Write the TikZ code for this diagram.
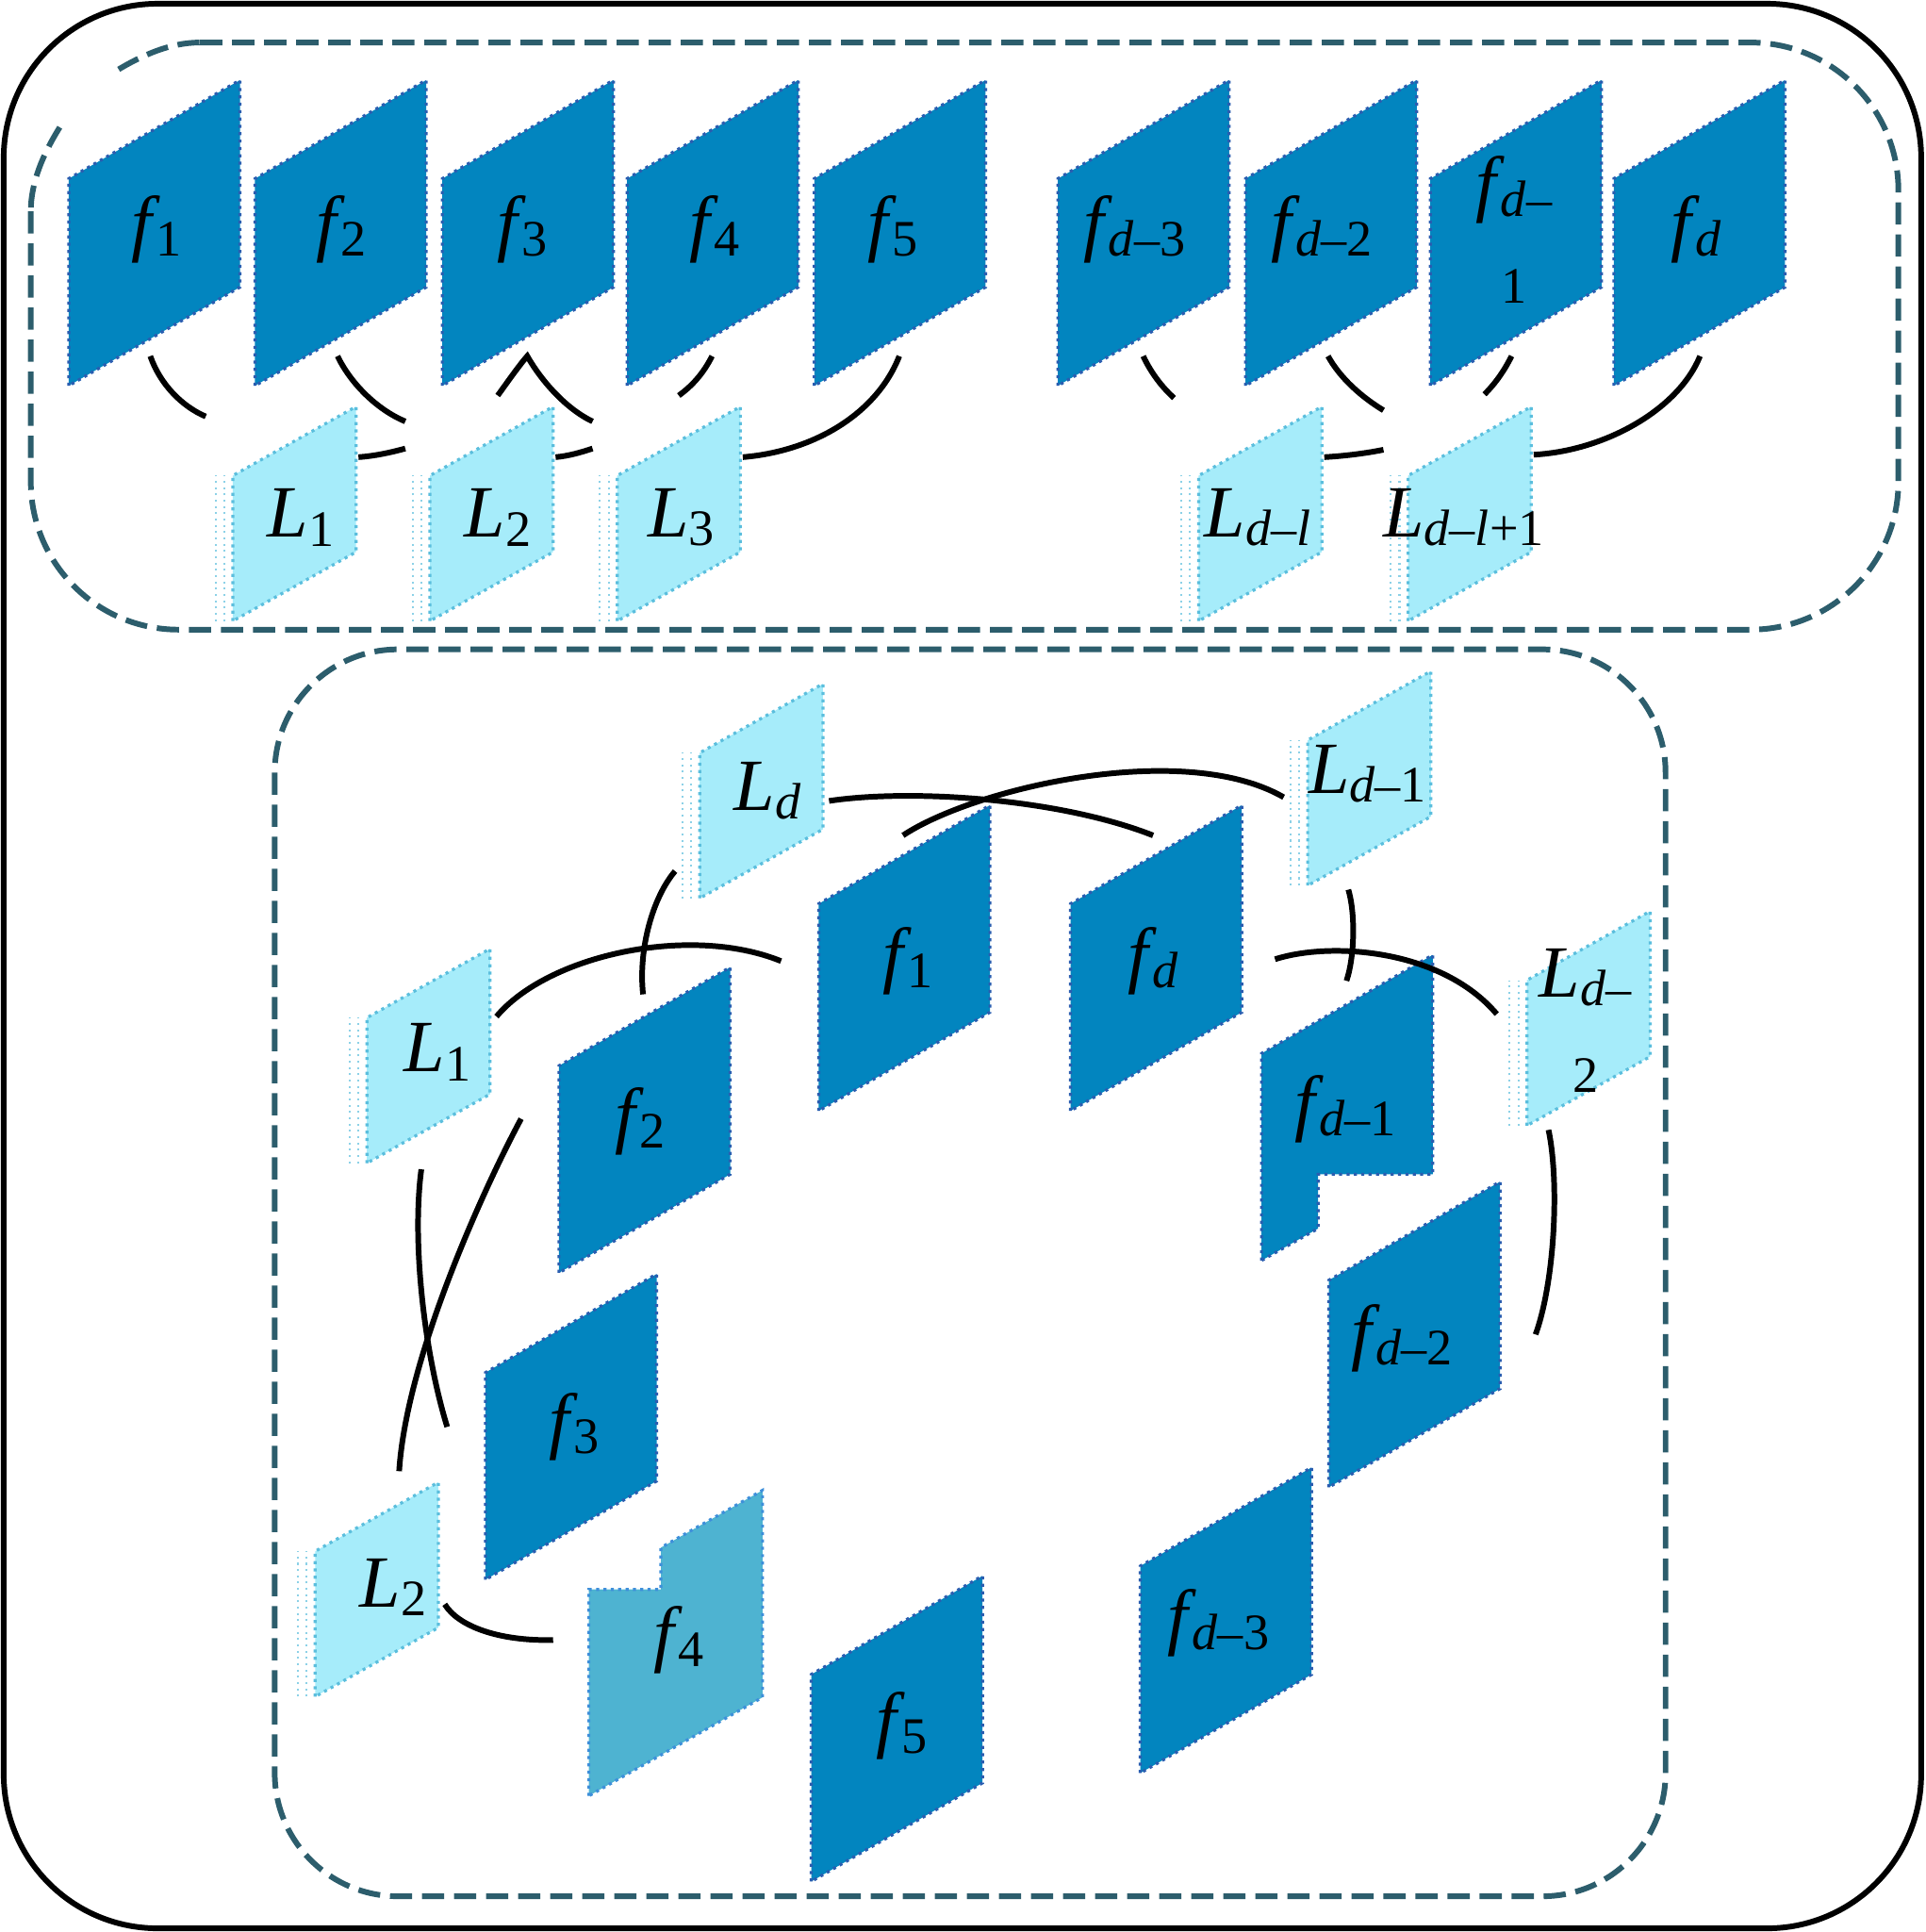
\documentclass[tikz,border=0pt]{standalone}
\usepackage{fontspec}
\setmainfont{Liberation Serif}
\definecolor{fdark}{HTML}{0285BF}
\definecolor{fedge}{HTML}{2A5DB0}
\definecolor{lfill}{HTML}{A6ECFA}
\definecolor{ledge}{HTML}{5BBEDD}
\definecolor{fmid}{HTML}{4EB3D1}
\definecolor{dteal}{HTML}{2C5D6C}
\newcommand\subsz{\fontsize{11.8}{22}\selectfont}
\newcommand\lbl[2]{\textit{#1}\ifx f#1\kern-0.06em\fi\raisebox{-0.12em}{\subsz #2}}
\newcommand\ftile[2]{\filldraw[ftilest] (#1,#2) -- ++(0,-168) -- ++(139,-80) -- ++(0,168) -- cycle;}
\newcommand\ltile[2]{%
  \draw[lghost] (#1-14,#2) -- ++(0,-118);
  \draw[lghost] (#1-7,#2) -- ++(0,-118);
  \filldraw[ltilest] (#1,#2) -- ++(0,-118) -- ++(100,-56) -- ++(0,118) -- cycle;}
\begin{document}
\begin{tikzpicture}[x=0.01cm,y=-0.01cm,
  ftilest/.style={fill=fdark, draw=fedge, densely dotted, line width=0.7pt},
  ftilemid/.style={fill=fmid, draw=fmid!80!blue, densely dotted, line width=0.7pt},
  ltilest/.style={fill=lfill, draw=ledge, densely dotted, line width=0.7pt},
  lghost/.style={draw=ledge!70, densely dotted, line width=0.45pt},
  conn/.style={line width=1.3pt, black},
  dbox/.style={draw=dteal, dash pattern=on 1.8mm off 0.8mm, line width=1.3pt},
  lab/.style={inner sep=0pt, font=\fontsize{17}{22}\selectfont, align=center}]
\useasboundingbox (0,0) rectangle (1563,1568);
% outer frame
\draw[line width=1.3pt, rounded corners=12.5mm] (3,3) rectangle (1559.5,1565);
% top dashed box
\draw[dbox, rounded corners=12mm] (25,171.5) -- (25,511) -- (1541,511) -- (1541,34.5) -- (162,34.5);
\draw[dbox] (162,34.5) .. controls (138,34.5) and (115,45) .. (94.4,57.4);
\draw[dbox] (48.5,103.3) .. controls (35,125) and (25,148) .. (25,171.5);
% bottom dashed box
\draw[dbox, rounded corners=10mm] (223,527) rectangle (1352,1539);

% ---------- top row ----------
\ftile{55.8}{313}\ftile{207}{313}\ftile{359}{313}\ftile{509}{313}\ftile{661}{313}
\ftile{858.7}{313}\ftile{1011}{313}\ftile{1161}{313}\ftile{1310}{313}
\ltile{189}{504}\ltile{349}{504}\ltile{501}{504}\ltile{973}{504}\ltile{1143}{504}

\node[lab] (tf1) at (127,186) {\lbl{f}{1}};
\node[lab] (tf2) at (277,186) {\lbl{f}{2}};
\node[lab] (tf3) at (424,186) {\lbl{f}{3}};
\node[lab] (tf4) at (580,186) {\lbl{f}{4}};
\node[lab] (tf5) at (725,186) {\lbl{f}{5}};
\node[lab] (tfd3) at (921,186) {\lbl{f}{\textit{d}–3}};
\node[lab] (tfd2) at (1073,186) {\lbl{f}{\textit{d}–2}};
\node[lab] (tfd1) at (1229,186) {\lbl{f}{\textit{d}–}\\{\subsz 1}};
\node[lab] (tfd) at (1377,186) {\lbl{f}{\textit{d}}};
\node[lab] (tL1) at (244,420) {\lbl{L}{1}};
\node[lab] (tL2) at (404,420) {\lbl{L}{2}};
\node[lab] (tL3) at (553,420) {\lbl{L}{3}};
\node[lab] (tLdl) at (1021,420) {\lbl{L}{\textit{d}–\textit{l}}};
\node[lab] (tLdl1) at (1188,420) {\lbl{L}{\textit{d}–\textit{l}+1}};

\draw[conn] (122,289) .. controls (130,312) and (148,330) .. (167,338);
\draw[conn] (291,371) .. controls (305,370) and (318,367) .. (329,364);
\draw[conn] (274,289) .. controls (284,310) and (305,332) .. (329,342);
\draw[conn] (404,321) .. controls (412,310) and (421,297) .. (428,289) .. controls (440,310) and (460,332) .. (481,342);
\draw[conn] (451,371) .. controls (462,370) and (472,367) .. (481,364);
\draw[conn] (578,289) .. controls (571,303) and (562,313) .. (551,321);
\draw[conn] (730,289) .. controls (712,335) and (662,366) .. (603,371);
\draw[conn] (928,289) .. controls (934,302) and (943,314) .. (953,323);
\draw[conn] (1078,289) .. controls (1088,307) and (1105,322) .. (1123,333);
\draw[conn] (1075,371) .. controls (1092,370) and (1108,368) .. (1123,365);
\draw[conn] (1227,289) .. controls (1221,301) and (1214,311) .. (1205,320);
\draw[conn] (1380,289) .. controls (1362,333) and (1302,366) .. (1245,369);

% ---------- bottom ring ----------
\ftile{664.6}{901.5}\ftile{869}{901.5}\ftile{453.7}{1033}\ftile{394}{1282}
\ftile{658.5}{1527}\ftile{925.6}{1439}\ftile{1078.7}{1207}
\filldraw[ftilest] (1024,1023) -- (1024,855) -- (1163,775) -- (1163,953) -- (1070,953) -- (1070,997) -- cycle;
\filldraw[ftilemid] (478,1457.5) -- (478,1290) -- (536.5,1290) -- (536.5,1256) -- (619,1209.5) -- (619,1377.5) -- cycle;
\ltile{568}{729}\ltile{1061.5}{718.7}\ltile{1239.5}{913.5}\ltile{297.8}{944}\ltile{255.8}{1377}

\node[lab] (bLd) at (623,642) {\lbl{L}{\textit{d}}};
\node[lab] (bf1) at (737,780) {\lbl{f}{1}};
\node[lab] (bL1) at (355,854) {\lbl{L}{1}};
\node[lab] (bf2) at (520,910) {\lbl{f}{2}};
\node[lab] (bLd1) at (1110,628) {\lbl{L}{\textit{d}–1}};
\node[lab] (bfd) at (936,780) {\lbl{f}{\textit{d}}};
\node[lab] (bfd1) at (1092,900) {\lbl{f}{\textit{d}–1}};
\node[lab] (bLd2) at (1287,828) {\lbl{L}{\textit{d}–}\\{\subsz 2}};
\node[lab] (bfd2) at (1138,1086) {\lbl{f}{\textit{d}–2}};
\node[lab] (bfd3) at (989,1317) {\lbl{f}{\textit{d}–3}};
\node[lab] (bf3) at (466,1158) {\lbl{f}{3}};
\node[lab] (bL2) at (319,1288) {\lbl{L}{2}};
\node[lab] (bf4) at (551,1331) {\lbl{f}{4}};
\node[lab] (bf5) at (732,1401) {\lbl{f}{5}};

\draw[conn] (673,650) .. controls (740,640) and (860,648) .. (936,678);
\draw[conn] (733,678) .. controls (790,640) and (960,600) .. (1042,647);
\draw[conn] (403,825) .. controls (445,775) and (560,750) .. (634,780);
\draw[conn] (548,707) .. controls (530,728) and (518,770) .. (522,807);
\draw[conn] (423,908) .. controls (395,960) and (330,1100) .. (324,1194);
\draw[conn] (342,949) .. controls (334,1010) and (345,1100) .. (363,1158);
\draw[conn] (361,1302) .. controls (372,1320) and (405,1332) .. (449,1331);
\draw[conn] (1035,778.5) .. controls (1080,764) and (1170,770) .. (1215,823);
\draw[conn] (1094.5,722) .. controls (1100,740) and (1100,775) .. (1093,796);
\draw[conn] (1257,917) .. controls (1266,960) and (1262,1040) .. (1246.5,1083);
\end{tikzpicture}
\end{document}
